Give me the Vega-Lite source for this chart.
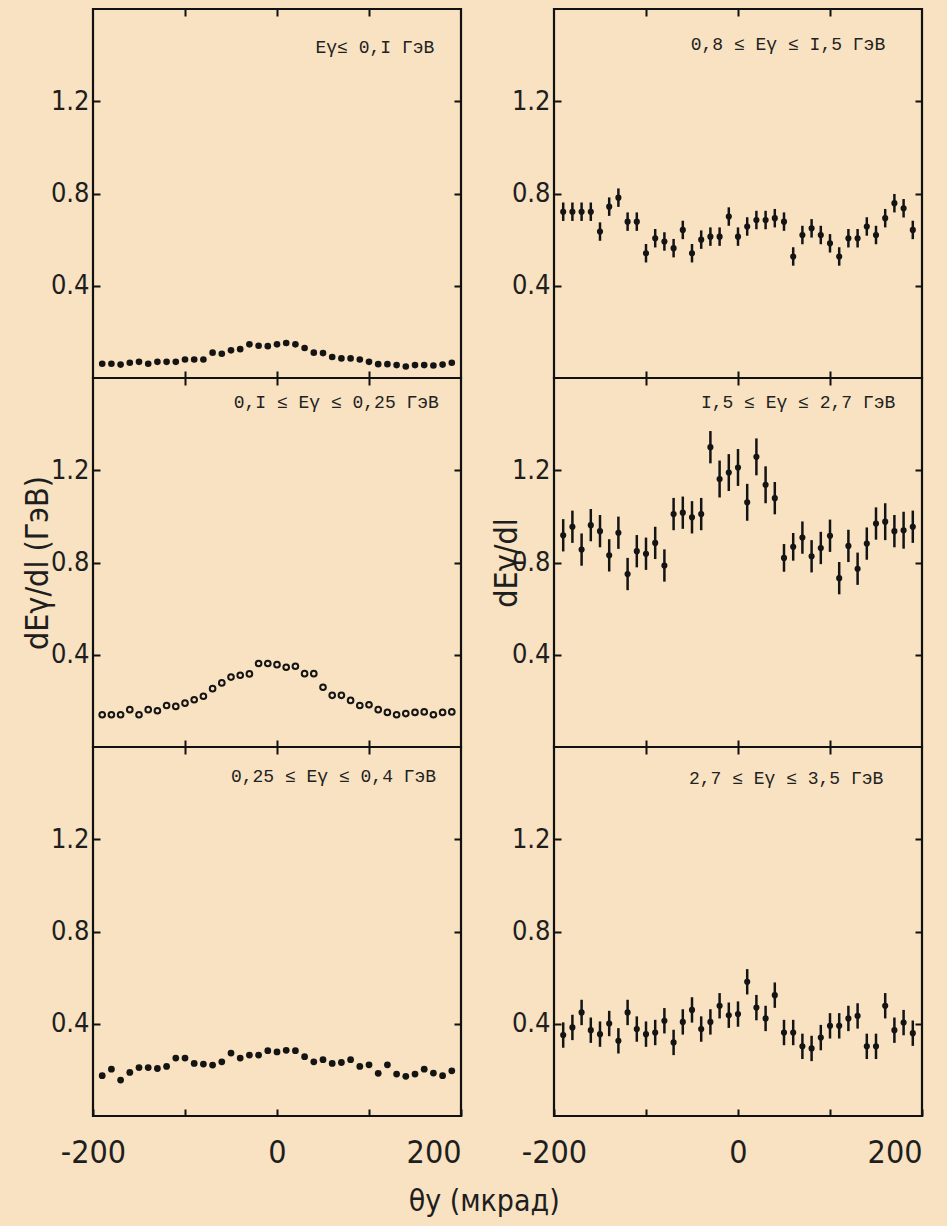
{
  "$schema": "https://vega.github.io/schema/vega-lite/v6.json",
  "background": "#f8e2c1",
  "padding": {"left": 20, "top": 6, "right": 25, "bottom": 8},
  "title": {"text": "θy  (мкрад)", "orient": "bottom", "anchor": "middle", "offset": 18, "font": "Liberation Sans Narrow, DejaVu Sans Condensed, Liberation Sans, sans-serif", "fontSize": 30, "fontWeight": "normal", "color": "#1e1e1e", "dx": 12},
  "datasets": {
    "tl": [{"t":-190,"v":0.062},{"t":-180,"v":0.062},{"t":-170,"v":0.058},{"t":-160,"v":0.066},{"t":-150,"v":0.07},{"t":-140,"v":0.062},{"t":-130,"v":0.07},{"t":-120,"v":0.07},{"t":-110,"v":0.07},{"t":-100,"v":0.08},{"t":-90,"v":0.08},{"t":-80,"v":0.08},{"t":-70,"v":0.11},{"t":-60,"v":0.105},{"t":-50,"v":0.12},{"t":-40,"v":0.125},{"t":-30,"v":0.146},{"t":-20,"v":0.14},{"t":-10,"v":0.138},{"t":0,"v":0.146},{"t":10,"v":0.152},{"t":20,"v":0.146},{"t":30,"v":0.13},{"t":40,"v":0.11},{"t":50,"v":0.108},{"t":60,"v":0.091},{"t":70,"v":0.085},{"t":80,"v":0.085},{"t":90,"v":0.08},{"t":100,"v":0.07},{"t":110,"v":0.06},{"t":120,"v":0.06},{"t":130,"v":0.056},{"t":140,"v":0.05},{"t":150,"v":0.056},{"t":160,"v":0.056},{"t":170,"v":0.054},{"t":180,"v":0.058},{"t":190,"v":0.066}],
    "ml": [{"t":-190,"v":0.14},{"t":-180,"v":0.14},{"t":-170,"v":0.14},{"t":-160,"v":0.162},{"t":-150,"v":0.14},{"t":-140,"v":0.162},{"t":-130,"v":0.157},{"t":-120,"v":0.18},{"t":-110,"v":0.176},{"t":-100,"v":0.19},{"t":-90,"v":0.205},{"t":-80,"v":0.22},{"t":-70,"v":0.253},{"t":-60,"v":0.278},{"t":-50,"v":0.303},{"t":-40,"v":0.311},{"t":-30,"v":0.317},{"t":-20,"v":0.362},{"t":-10,"v":0.362},{"t":0,"v":0.357},{"t":10,"v":0.346},{"t":20,"v":0.35},{"t":30,"v":0.318},{"t":40,"v":0.318},{"t":50,"v":0.259},{"t":60,"v":0.224},{"t":70,"v":0.224},{"t":80,"v":0.202},{"t":90,"v":0.18},{"t":100,"v":0.183},{"t":110,"v":0.162},{"t":120,"v":0.15},{"t":130,"v":0.14},{"t":140,"v":0.145},{"t":150,"v":0.15},{"t":160,"v":0.152},{"t":170,"v":0.14},{"t":180,"v":0.15},{"t":190,"v":0.152}],
    "bl": [{"t":-190,"v":0.175},{"t":-180,"v":0.203},{"t":-170,"v":0.156},{"t":-160,"v":0.189},{"t":-150,"v":0.21},{"t":-140,"v":0.21},{"t":-130,"v":0.206},{"t":-120,"v":0.215},{"t":-110,"v":0.251},{"t":-100,"v":0.251},{"t":-90,"v":0.228},{"t":-80,"v":0.225},{"t":-70,"v":0.221},{"t":-60,"v":0.235},{"t":-50,"v":0.273},{"t":-40,"v":0.251},{"t":-30,"v":0.264},{"t":-20,"v":0.264},{"t":-10,"v":0.283},{"t":0,"v":0.278},{"t":10,"v":0.285},{"t":20,"v":0.283},{"t":30,"v":0.257},{"t":40,"v":0.235},{"t":50,"v":0.244},{"t":60,"v":0.228},{"t":70,"v":0.232},{"t":80,"v":0.244},{"t":90,"v":0.215},{"t":100,"v":0.222},{"t":110,"v":0.185},{"t":120,"v":0.222},{"t":130,"v":0.182},{"t":140,"v":0.172},{"t":150,"v":0.182},{"t":160,"v":0.203},{"t":170,"v":0.186},{"t":180,"v":0.175},{"t":190,"v":0.196}],
    "tr": [{"t":-190,"v":0.721,"e":0.04},{"t":-180,"v":0.721,"e":0.04},{"t":-170,"v":0.721,"e":0.04},{"t":-160,"v":0.721,"e":0.04},{"t":-150,"v":0.635,"e":0.04},{"t":-140,"v":0.743,"e":0.04},{"t":-130,"v":0.782,"e":0.04},{"t":-120,"v":0.678,"e":0.04},{"t":-110,"v":0.678,"e":0.04},{"t":-100,"v":0.541,"e":0.04},{"t":-90,"v":0.606,"e":0.04},{"t":-80,"v":0.592,"e":0.04},{"t":-70,"v":0.563,"e":0.04},{"t":-60,"v":0.642,"e":0.04},{"t":-50,"v":0.541,"e":0.04},{"t":-40,"v":0.6,"e":0.04},{"t":-30,"v":0.613,"e":0.04},{"t":-20,"v":0.613,"e":0.04},{"t":-10,"v":0.7,"e":0.04},{"t":0,"v":0.613,"e":0.04},{"t":10,"v":0.657,"e":0.04},{"t":20,"v":0.685,"e":0.04},{"t":30,"v":0.685,"e":0.04},{"t":40,"v":0.693,"e":0.04},{"t":50,"v":0.678,"e":0.04},{"t":60,"v":0.527,"e":0.04},{"t":70,"v":0.62,"e":0.04},{"t":80,"v":0.649,"e":0.04},{"t":90,"v":0.62,"e":0.04},{"t":100,"v":0.584,"e":0.04},{"t":110,"v":0.527,"e":0.04},{"t":120,"v":0.606,"e":0.04},{"t":130,"v":0.606,"e":0.04},{"t":140,"v":0.657,"e":0.04},{"t":150,"v":0.62,"e":0.04},{"t":160,"v":0.693,"e":0.04},{"t":170,"v":0.758,"e":0.04},{"t":180,"v":0.736,"e":0.04},{"t":190,"v":0.642,"e":0.04}],
    "mr": [{"t":-190,"v":0.918,"e":0.07},{"t":-180,"v":0.955,"e":0.07},{"t":-170,"v":0.856,"e":0.07},{"t":-160,"v":0.962,"e":0.07},{"t":-150,"v":0.936,"e":0.07},{"t":-140,"v":0.831,"e":0.07},{"t":-130,"v":0.929,"e":0.07},{"t":-120,"v":0.75,"e":0.07},{"t":-110,"v":0.849,"e":0.07},{"t":-100,"v":0.838,"e":0.07},{"t":-90,"v":0.885,"e":0.07},{"t":-80,"v":0.787,"e":0.07},{"t":-70,"v":1.01,"e":0.07},{"t":-60,"v":1.016,"e":0.07},{"t":-50,"v":0.996,"e":0.07},{"t":-40,"v":1.01,"e":0.07},{"t":-30,"v":1.3,"e":0.07},{"t":-20,"v":1.162,"e":0.08},{"t":-10,"v":1.19,"e":0.08},{"t":0,"v":1.212,"e":0.08},{"t":10,"v":1.061,"e":0.08},{"t":20,"v":1.258,"e":0.08},{"t":30,"v":1.137,"e":0.08},{"t":40,"v":1.079,"e":0.07},{"t":50,"v":0.82,"e":0.06},{"t":60,"v":0.868,"e":0.06},{"t":70,"v":0.908,"e":0.07},{"t":80,"v":0.827,"e":0.07},{"t":90,"v":0.863,"e":0.07},{"t":100,"v":0.916,"e":0.07},{"t":110,"v":0.732,"e":0.07},{"t":120,"v":0.872,"e":0.07},{"t":130,"v":0.773,"e":0.07},{"t":140,"v":0.882,"e":0.07},{"t":150,"v":0.969,"e":0.07},{"t":160,"v":0.977,"e":0.08},{"t":170,"v":0.936,"e":0.07},{"t":180,"v":0.94,"e":0.08},{"t":190,"v":0.955,"e":0.07}],
    "br": [{"t":-190,"v":0.351,"e":0.055},{"t":-180,"v":0.384,"e":0.055},{"t":-170,"v":0.449,"e":0.055},{"t":-160,"v":0.372,"e":0.055},{"t":-150,"v":0.355,"e":0.055},{"t":-140,"v":0.401,"e":0.055},{"t":-130,"v":0.326,"e":0.055},{"t":-120,"v":0.449,"e":0.055},{"t":-110,"v":0.377,"e":0.055},{"t":-100,"v":0.355,"e":0.055},{"t":-90,"v":0.362,"e":0.055},{"t":-80,"v":0.413,"e":0.055},{"t":-70,"v":0.319,"e":0.055},{"t":-60,"v":0.408,"e":0.055},{"t":-50,"v":0.46,"e":0.055},{"t":-40,"v":0.377,"e":0.055},{"t":-30,"v":0.408,"e":0.055},{"t":-20,"v":0.478,"e":0.055},{"t":-10,"v":0.437,"e":0.055},{"t":0,"v":0.442,"e":0.055},{"t":10,"v":0.582,"e":0.055},{"t":20,"v":0.47,"e":0.055},{"t":30,"v":0.423,"e":0.055},{"t":40,"v":0.524,"e":0.055},{"t":50,"v":0.362,"e":0.055},{"t":60,"v":0.362,"e":0.055},{"t":70,"v":0.302,"e":0.055},{"t":80,"v":0.293,"e":0.055},{"t":90,"v":0.34,"e":0.055},{"t":100,"v":0.391,"e":0.055},{"t":110,"v":0.391,"e":0.055},{"t":120,"v":0.423,"e":0.055},{"t":130,"v":0.434,"e":0.055},{"t":140,"v":0.302,"e":0.055},{"t":150,"v":0.302,"e":0.055},{"t":160,"v":0.478,"e":0.055},{"t":170,"v":0.372,"e":0.055},{"t":180,"v":0.405,"e":0.055},{"t":190,"v":0.359,"e":0.055}]
  },
  "columns": 2,
  "spacing": {"row": 0, "column": 93},
  "bounds": "flush",
  "concat": [
      {"width": 368, "height": 369, "data": {"name": "tl"},
       "layer": [
        {"mark": {"type": "point", "opacity": 0},
         "encoding": {
          "x": {"field": "t", "type": "quantitative", "scale": {"domain": [-200, 200], "nice": false, "zero": false}, "axis": {"orient": "top", "values": [-100, 0, 100], "labels": false, "title": null}},
          "y": {"field": "v", "type": "quantitative", "scale": {"domain": [0, 1.6], "nice": false, "zero": false}, "axis": {"orient": "right", "values": [0.4, 0.8, 1.2], "labels": false, "title": null}}}},
        {"mark": {"type": "circle", "size": 44, "color": "#141414", "opacity": 1},
         "encoding": {
          "x": {"field": "t", "type": "quantitative", "axis": {"orient": "bottom", "values": [-100, 0, 100], "labels": false, "title": null}},
          "y": {"field": "v", "type": "quantitative", "axis": {"orient": "left", "values": [0.4, 0.8, 1.2], "title": null}}}},
        {"data": {"values": [{}]},
         "mark": {"type": "text", "align": "right", "baseline": "middle", "font": "Liberation Mono", "fontSize": 18, "color": "#222"},
         "encoding": {"x": {"datum": 171, "type": "quantitative", "axis": null}, "y": {"datum": 1.43, "type": "quantitative", "axis": null}, "text": {"value": "Eγ≤ 0,I  ГэВ"}}}
       ],
       "resolve": {"axis": {"x": "independent", "y": "independent"}}},
      {"width": 368, "height": 369, "data": {"name": "tr"},
       "layer": [
        {"mark": {"type": "point", "opacity": 0},
         "encoding": {
          "x": {"field": "t", "type": "quantitative", "scale": {"domain": [-200, 200], "nice": false, "zero": false}, "axis": {"orient": "top", "values": [-100, 0, 100], "labels": false, "title": null}},
          "y": {"field": "v", "type": "quantitative", "scale": {"domain": [0, 1.6], "nice": false, "zero": false}, "axis": {"orient": "right", "values": [0.4, 0.8, 1.2], "labels": false, "title": null}}}},
        {"mark": {"type": "errorbar", "thickness": 2.5, "color": "#141414", "ticks": false},
         "encoding": {
          "x": {"field": "t", "type": "quantitative", "axis": null},
          "y": {"field": "v", "type": "quantitative", "axis": null},
          "yError": {"field": "e"}}},
        {"mark": {"type": "circle", "size": 38, "color": "#141414", "opacity": 1},
         "encoding": {
          "x": {"field": "t", "type": "quantitative", "axis": {"orient": "bottom", "values": [-100, 0, 100], "labels": false, "title": null}},
          "y": {"field": "v", "type": "quantitative", "axis": {"orient": "left", "values": [0.4, 0.8, 1.2], "title": null}}}},
        {"data": {"values": [{}]},
         "mark": {"type": "text", "align": "right", "baseline": "middle", "font": "Liberation Mono", "fontSize": 18, "color": "#222"},
         "encoding": {"x": {"datum": 160, "type": "quantitative", "axis": null}, "y": {"datum": 1.445, "type": "quantitative", "axis": null}, "text": {"value": "0,8 ≤ Eγ ≤ I,5 ГэВ"}}}
       ],
       "resolve": {"axis": {"x": "independent", "y": "independent"}}},
      {"width": 368, "height": 369, "data": {"name": "ml"},
       "layer": [
        {"mark": {"type": "point", "opacity": 0},
         "encoding": {
          "x": {"field": "t", "type": "quantitative", "scale": {"domain": [-200, 200], "nice": false, "zero": false}, "axis": {"orient": "top", "values": [-100, 0, 100], "labels": false, "title": null}},
          "y": {"field": "v", "type": "quantitative", "scale": {"domain": [0, 1.6], "nice": false, "zero": false}, "axis": {"orient": "right", "values": [0.4, 0.8, 1.2], "labels": false, "title": null}}}},
        {"mark": {"type": "point", "filled": false, "size": 32, "strokeWidth": 2, "color": "#141414", "opacity": 1},
         "encoding": {
          "x": {"field": "t", "type": "quantitative", "axis": {"orient": "bottom", "values": [-100, 0, 100], "labels": false, "title": null}},
          "y": {"field": "v", "type": "quantitative", "axis": {"orient": "left", "values": [0.4, 0.8, 1.2], "title": "dEγ/dl (ГэВ)", "titlePadding": -4}}}},
        {"data": {"values": [{}]},
         "mark": {"type": "text", "align": "right", "baseline": "middle", "font": "Liberation Mono", "fontSize": 18, "color": "#222"},
         "encoding": {"x": {"datum": 176, "type": "quantitative", "axis": null}, "y": {"datum": 1.49, "type": "quantitative", "axis": null}, "text": {"value": "0,I ≤ Eγ ≤ 0,25 ГэВ"}}}
       ],
       "resolve": {"axis": {"x": "independent", "y": "independent"}}},
      {"width": 368, "height": 369, "data": {"name": "mr"},
       "layer": [
        {"mark": {"type": "point", "opacity": 0},
         "encoding": {
          "x": {"field": "t", "type": "quantitative", "scale": {"domain": [-200, 200], "nice": false, "zero": false}, "axis": {"orient": "top", "values": [-100, 0, 100], "labels": false, "title": null}},
          "y": {"field": "v", "type": "quantitative", "scale": {"domain": [0, 1.6], "nice": false, "zero": false}, "axis": {"orient": "right", "values": [0.4, 0.8, 1.2], "labels": false, "title": null}}}},
        {"mark": {"type": "errorbar", "thickness": 2.5, "color": "#141414", "ticks": false},
         "encoding": {
          "x": {"field": "t", "type": "quantitative", "axis": null},
          "y": {"field": "v", "type": "quantitative", "axis": null},
          "yError": {"field": "e"}}},
        {"mark": {"type": "circle", "size": 38, "color": "#141414", "opacity": 1},
         "encoding": {
          "x": {"field": "t", "type": "quantitative", "axis": {"orient": "bottom", "values": [-100, 0, 100], "labels": false, "title": null}},
          "y": {"field": "v", "type": "quantitative", "axis": {"orient": "left", "values": [0.4, 0.8, 1.2], "title": "dEγ/dl", "titlePadding": -12}}}},
        {"data": {"values": [{}]},
         "mark": {"type": "text", "align": "right", "baseline": "middle", "font": "Liberation Mono", "fontSize": 18, "color": "#222"},
         "encoding": {"x": {"datum": 171, "type": "quantitative", "axis": null}, "y": {"datum": 1.49, "type": "quantitative", "axis": null}, "text": {"value": "I,5 ≤ Eγ ≤ 2,7 ГэВ"}}}
       ],
       "resolve": {"axis": {"x": "independent", "y": "independent"}}},
      {"width": 368, "height": 369, "data": {"name": "bl"},
       "layer": [
        {"mark": {"type": "point", "opacity": 0},
         "encoding": {
          "x": {"field": "t", "type": "quantitative", "scale": {"domain": [-200, 200], "nice": false, "zero": false}, "axis": {"orient": "top", "values": [-100, 0, 100], "labels": false, "title": null}},
          "y": {"field": "v", "type": "quantitative", "scale": {"domain": [0, 1.6], "nice": false, "zero": false}, "axis": {"orient": "right", "values": [0.4, 0.8, 1.2], "labels": false, "title": null}}}},
        {"mark": {"type": "circle", "size": 46, "color": "#141414", "opacity": 1},
         "encoding": {
          "x": {"field": "t", "type": "quantitative", "axis": {"orient": "bottom", "values": [-200, -100, 0, 100, 200], "labelExpr": "abs(datum.value) == 100 ? '' : toString(datum.value)", "labelAlign": {"condition": {"test": "datum.value == 200", "value": "right"}, "value": "center"}, "title": null}},
          "y": {"field": "v", "type": "quantitative", "axis": {"orient": "left", "values": [0.4, 0.8, 1.2], "title": null}}}},
        {"data": {"values": [{}]},
         "mark": {"type": "text", "align": "right", "baseline": "middle", "font": "Liberation Mono", "fontSize": 18, "color": "#222"},
         "encoding": {"x": {"datum": 173, "type": "quantitative", "axis": null}, "y": {"datum": 1.47, "type": "quantitative", "axis": null}, "text": {"value": "0,25 ≤ Eγ ≤ 0,4  ГэВ"}}}
       ],
       "resolve": {"axis": {"x": "independent", "y": "independent"}}},
      {"width": 368, "height": 369, "data": {"name": "br"},
       "layer": [
        {"mark": {"type": "point", "opacity": 0},
         "encoding": {
          "x": {"field": "t", "type": "quantitative", "scale": {"domain": [-200, 200], "nice": false, "zero": false}, "axis": {"orient": "top", "values": [-100, 0, 100], "labels": false, "title": null}},
          "y": {"field": "v", "type": "quantitative", "scale": {"domain": [0, 1.6], "nice": false, "zero": false}, "axis": {"orient": "right", "values": [0.4, 0.8, 1.2], "labels": false, "title": null}}}},
        {"mark": {"type": "errorbar", "thickness": 2.5, "color": "#141414", "ticks": false},
         "encoding": {
          "x": {"field": "t", "type": "quantitative", "axis": null},
          "y": {"field": "v", "type": "quantitative", "axis": null},
          "yError": {"field": "e"}}},
        {"mark": {"type": "circle", "size": 38, "color": "#141414", "opacity": 1},
         "encoding": {
          "x": {"field": "t", "type": "quantitative", "axis": {"orient": "bottom", "values": [-200, -100, 0, 100, 200], "labelExpr": "abs(datum.value) == 100 ? '' : toString(datum.value)", "labelAlign": {"condition": {"test": "datum.value == 200", "value": "right"}, "value": "center"}, "title": null}},
          "y": {"field": "v", "type": "quantitative", "axis": {"orient": "left", "values": [0.4, 0.8, 1.2], "title": null}}}},
        {"data": {"values": [{}]},
         "mark": {"type": "text", "align": "right", "baseline": "middle", "font": "Liberation Mono", "fontSize": 18, "color": "#222"},
         "encoding": {"x": {"datum": 158, "type": "quantitative", "axis": null}, "y": {"datum": 1.46, "type": "quantitative", "axis": null}, "text": {"value": "2,7 ≤ Eγ ≤ 3,5 ГэВ"}}}
       ],
       "resolve": {"axis": {"x": "independent", "y": "independent"}}}
  ],
  "config": {
    "view": {"stroke": "#111", "strokeWidth": 2.2},
    "axis": {"domain": false, "grid": false, "ticks": true, "tickSize": -7, "tickWidth": 2, "tickColor": "#111", "labelFont": "Liberation Sans Narrow, DejaVu Sans Condensed, Liberation Sans, sans-serif", "labelFontSize": 27, "labelColor": "#1e1e1e", "labelPadding": 11, "labelFlush": false, "labelOverlap": false, "titleFont": "Liberation Sans Narrow, DejaVu Sans Condensed, Liberation Sans, sans-serif", "titleFontSize": 32, "titleFontWeight": "normal", "titleColor": "#1e1e1e"},
    "axisBottom": {"labelFontSize": 32, "labelPadding": 28}
  }
}
